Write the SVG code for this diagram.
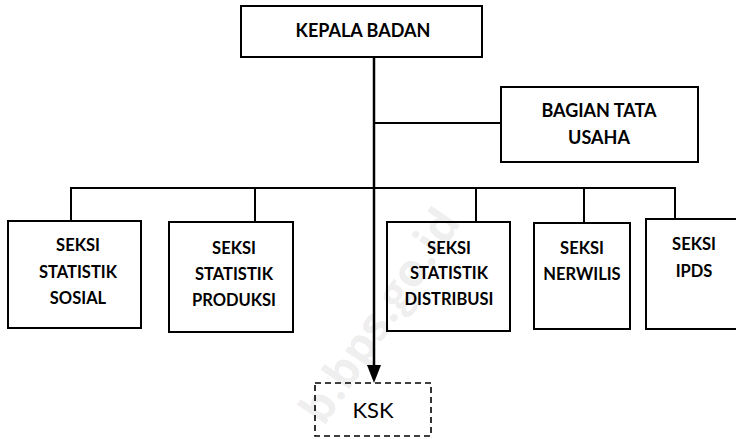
<svg xmlns="http://www.w3.org/2000/svg" width="736" height="439" viewBox="0 0 736 439">
<style>
.box{fill:#fff;stroke:#000;stroke-width:2}
.dash{fill:none;stroke:#000;stroke-width:1.6;stroke-dasharray:6,4}
.ln{stroke:#000;stroke-width:2;fill:none}
.t{font-family:Lato,"Open Sans","Liberation Sans",sans-serif;font-weight:bold;font-size:16.5px;text-anchor:middle;fill:#000}
.tb{font-family:Lato,"Open Sans","Liberation Sans",sans-serif;font-weight:bold;font-size:18px;text-anchor:middle;fill:#000}
.tn{font-family:Lato,"Open Sans","Liberation Sans",sans-serif;font-size:22px;text-anchor:middle;fill:#000}
</style>
<g id="connectors">
<line class="ln" x1="374" y1="57" x2="374" y2="366" style="stroke-width:2.5"/>
<path d="M367,365 L381,365 L374,383 Z" fill="#000"/>
<line class="ln" x1="374" y1="123" x2="501" y2="123"/>
<line class="ln" x1="70" y1="188" x2="676" y2="188"/>
<line class="ln" x1="71" y1="188" x2="71" y2="221"/>
<line class="ln" x1="255" y1="188" x2="255" y2="222"/>
<line class="ln" x1="476" y1="188" x2="476" y2="222"/>
<line class="ln" x1="584" y1="188" x2="584" y2="223"/>
<line class="ln" x1="675" y1="188" x2="675" y2="219"/>
</g>
<g id="kepala"><rect class="box" x="241" y="6" width="241" height="51"/><text class="tb" x="363" y="37">KEPALA BADAN</text></g>
<g id="tatausaha"><rect class="box" x="501" y="87" width="197" height="75"/><text class="tb" x="599" y="117">BAGIAN TATA</text><text class="tb" x="599" y="144">USAHA</text></g>
<g id="sosial"><rect class="box" x="8" y="221" width="133" height="107"/><text class="t" x="78" y="251">SEKSI</text><text class="t" x="78" y="278">STATISTIK</text><text class="t" x="78" y="304">SOSIAL</text></g>
<g id="produksi"><rect class="box" x="169" y="222" width="124" height="110"/><text class="t" x="234" y="254">SEKSI</text><text class="t" x="234" y="280">STATISTIK</text><text class="t" x="234" y="306">PRODUKSI</text></g>
<g id="distribusi"><rect class="box" x="387" y="222" width="123" height="109"/><text class="t" x="449" y="254">SEKSI</text><text class="t" x="449" y="279">STATISTIK</text><text class="t" x="449" y="305">DISTRIBUSI</text></g>
<g id="nerwilis"><rect class="box" x="534" y="223" width="96" height="106"/><text class="t" x="582" y="254">SEKSI</text><text class="t" x="582" y="280">NERWILIS</text></g>
<g id="ipds"><rect class="box" x="646" y="219" width="100" height="110"/><text class="t" x="694" y="250">SEKSI</text><text class="t" x="694" y="277">IPDS</text></g>
<g id="ksk"><rect class="dash" x="315" y="383" width="116" height="53"/><text class="tn" x="373" y="418">KSK</text></g>
<text x="383" y="330" transform="rotate(-56 383 318)" style="font-family:'Open Sans',sans-serif;font-weight:bold;font-size:46px;text-anchor:middle;fill:#000;fill-opacity:0.08">b.bps.go.id</text>
</svg>
